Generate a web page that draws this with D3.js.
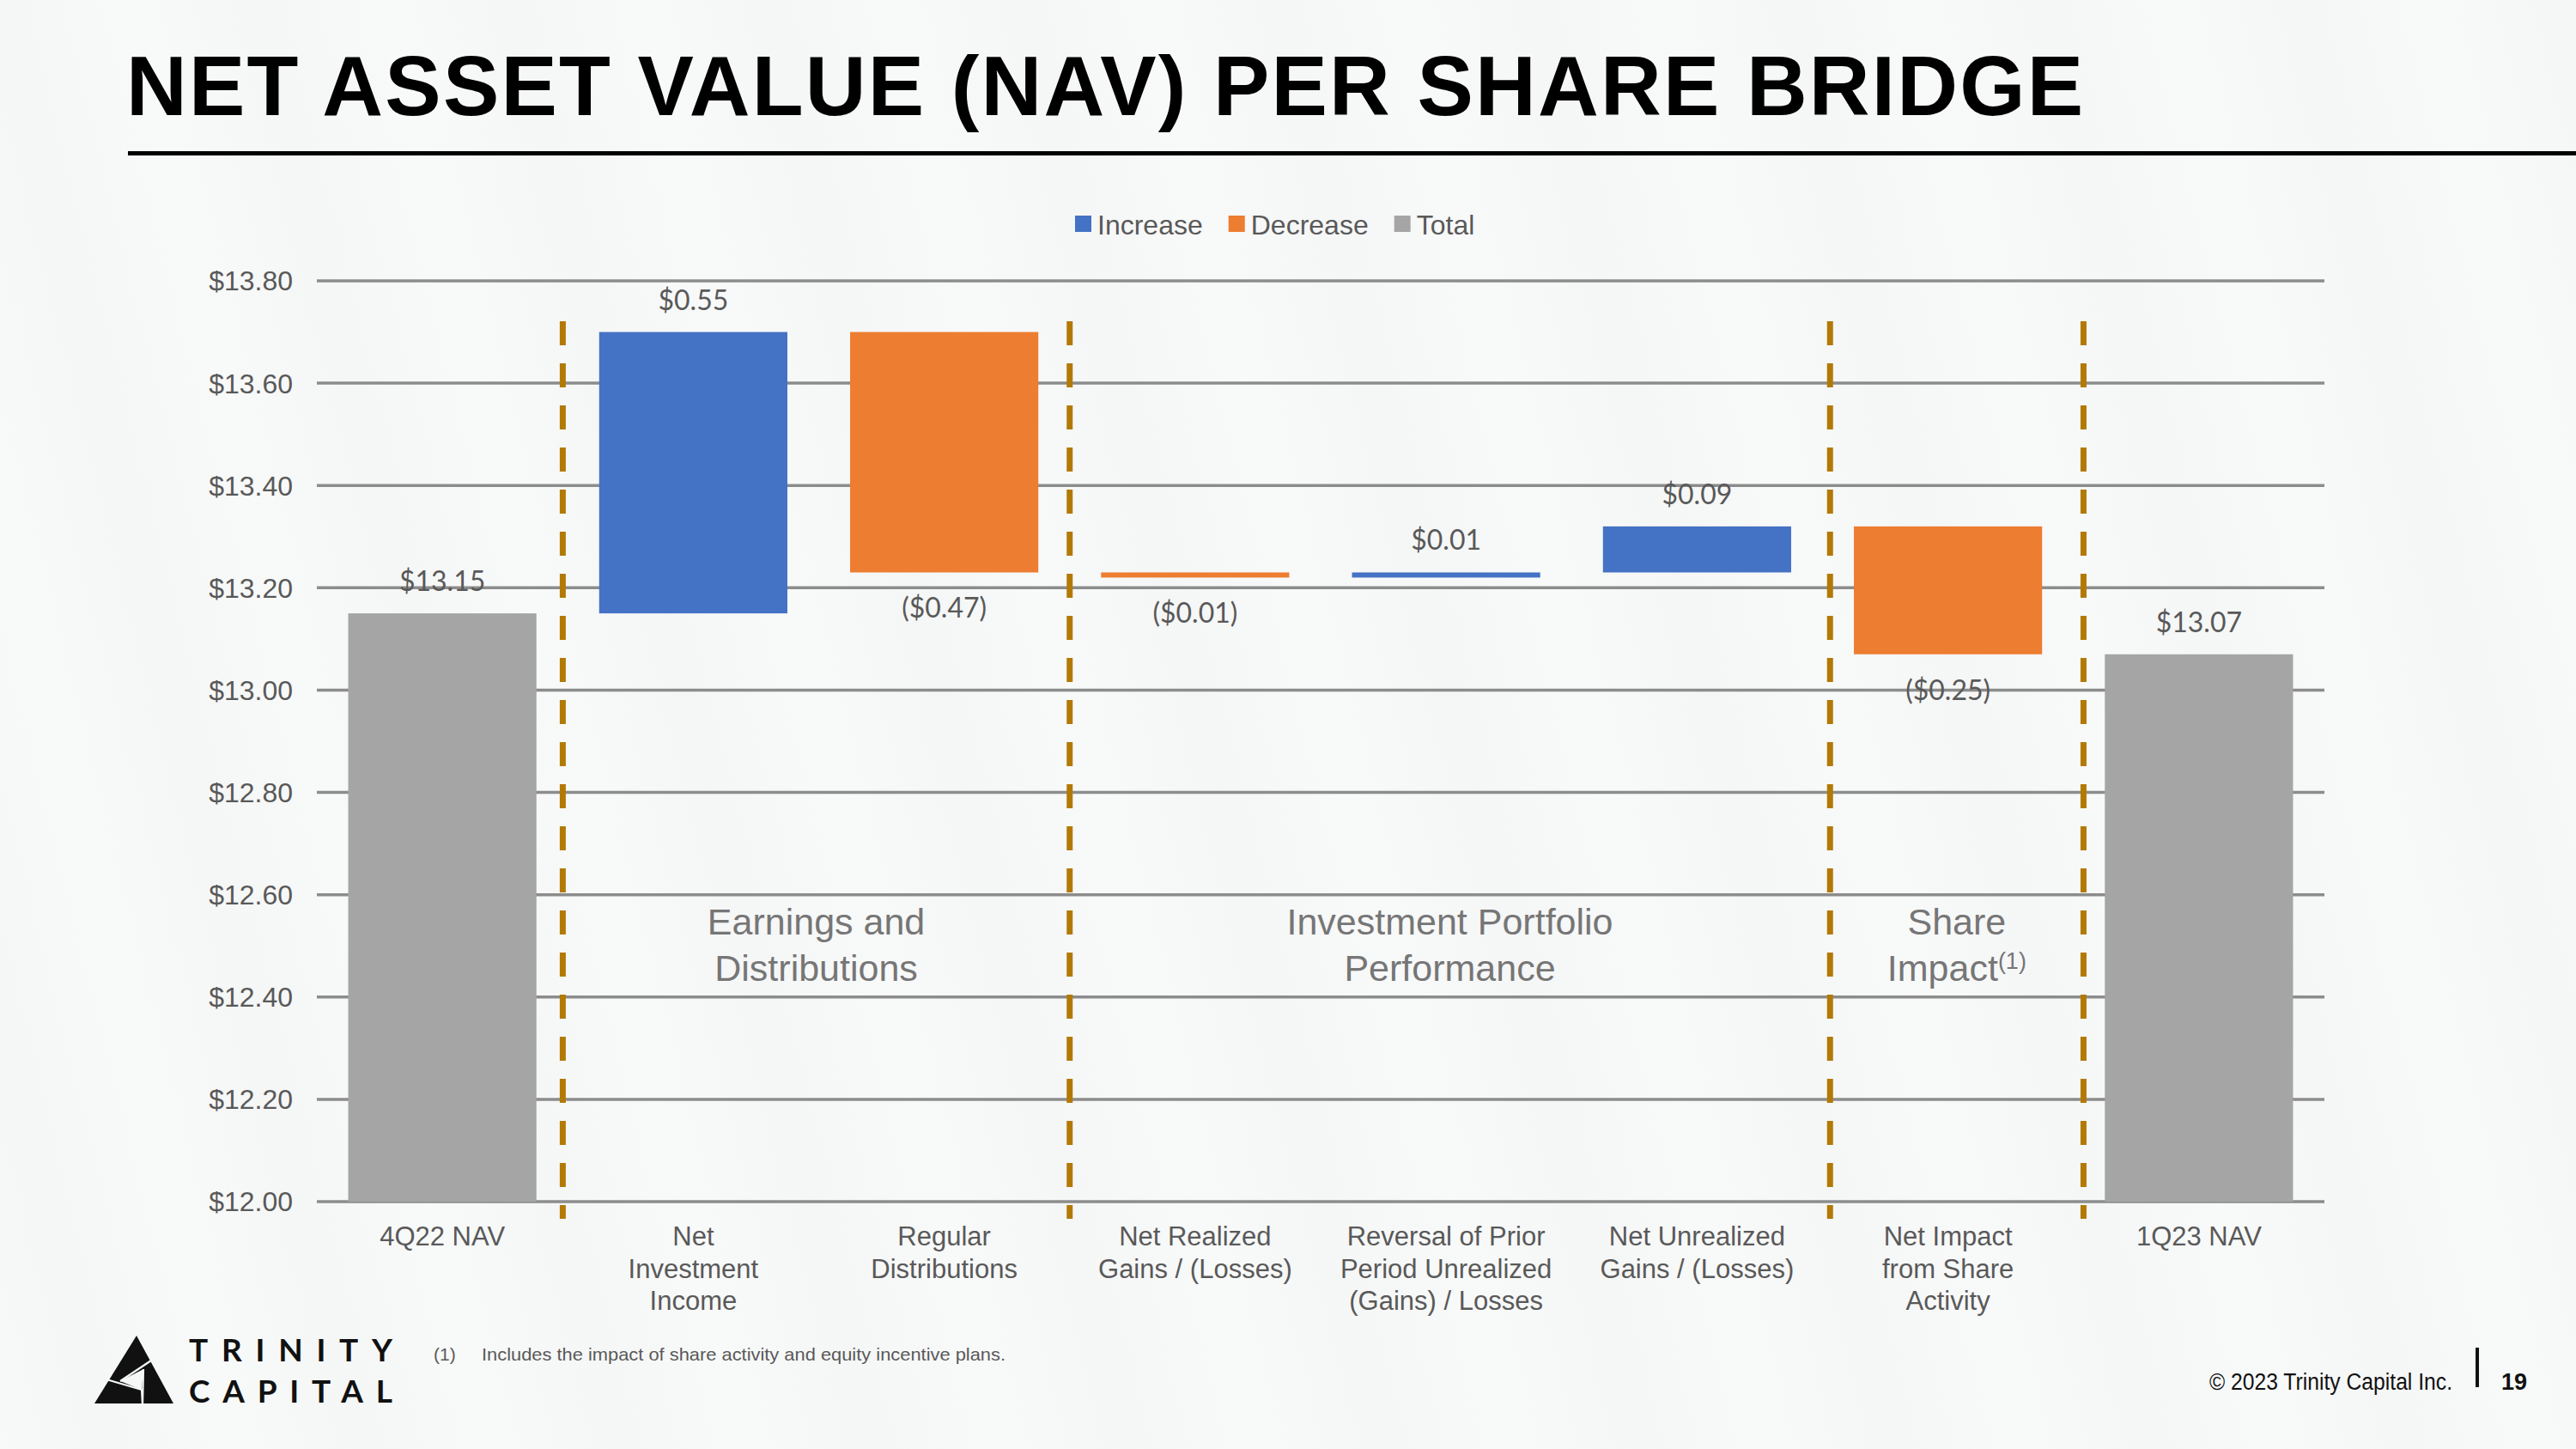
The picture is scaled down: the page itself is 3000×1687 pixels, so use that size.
<!DOCTYPE html>
<html>
<head>
<meta charset="utf-8">
<script src="https://cdn.jsdelivr.net/npm/d3@7"></script>
<style>
  html, body { margin: 0; padding: 0; background: #f6f7f7; }
  svg { display: block; }
</style>
</head>
<body>
<svg id="chart" width="3000" height="1687"></svg>
<script>
// ---------------- DATA ----------------
const categories = ["4Q22 NAV", "Net Investment Income", "Regular Distributions", "Net Realized Gains / (Losses)",
  "Reversal of Prior Period Unrealized (Gains) / Losses", "Net Unrealized Gains / (Losses)",
  "Net Impact from Share Activity", "1Q23 NAV"];
const categoryLines = [
  ["4Q22 NAV"],
  ["Net", "Investment", "Income"],
  ["Regular", "Distributions"],
  ["Net Realized", "Gains / (Losses)"],
  ["Reversal of Prior", "Period Unrealized", "(Gains) / Losses"],
  ["Net Unrealized", "Gains / (Losses)"],
  ["Net Impact", "from Share", "Activity"],
  ["1Q23 NAV"]
];
const values = [13.15, 0.55, -0.47, -0.01, 0.01, 0.09, -0.25, 13.07];
const barTypes = ["total", "increase", "decrease", "decrease", "increase", "increase", "decrease", "total"];
const yTicks = [12.00, 12.20, 12.40, 12.60, 12.80, 13.00, 13.20, 13.40, 13.60, 13.80];
const legendKeys = ["increase", "decrease", "total"];
const legendLabels = ["Increase", "Decrease", "Total"];
// divider positions in category units (0 = centre of first category)
const dividerPositions = [0.48, 2.5, 5.53, 6.54];
const sectionLabels = [["Earnings and", "Distributions"], ["Investment Portfolio", "Performance"], ["Share", "Impact"]];
const titleText = "NET ASSET VALUE (NAV) PER SHARE BRIDGE";
const footnoteText = "Includes the impact of share activity and equity incentive plans.";

// ---------------- STYLE ----------------
const colors = { increase: "#4472C4", decrease: "#ED7D31", total: "#A5A5A5" };
const textGray = "#595959";

const svg = d3.select("#chart");

// background with faint diagonal stripes
const defs = svg.append("defs");
const grad = defs.append("linearGradient")
  .attr("id", "bgStripes").attr("gradientUnits", "userSpaceOnUse")
  .attr("x1", 0).attr("y1", 0).attr("x2", 280).attr("y2", -70)
  .attr("spreadMethod", "repeat");
grad.append("stop").attr("offset", "0%").attr("stop-color", "#f5f6f6");
grad.append("stop").attr("offset", "50%").attr("stop-color", "#f8f9f9");
grad.append("stop").attr("offset", "100%").attr("stop-color", "#f5f6f6");
svg.append("rect").attr("width", 3000).attr("height", 1687).attr("fill", "url(#bgStripes)");

// title
svg.append("text")
  .attr("x", 147).attr("y", 134)
  .attr("textLength", 2279).attr("lengthAdjust", "spacing")
  .style("font-family", "'Liberation Sans', Arial, sans-serif")
  .style("font-weight", "bold").style("font-size", "98px").attr("fill", "#000")
  .text(titleText);
svg.append("rect").attr("x", 149).attr("y", 176).attr("width", 2851).attr("height", 5).attr("fill", "#000");

// ---------------- SCALES ----------------
const x = d3.scaleBand().domain(d3.range(categories.length))
  .range([369, 2707]).paddingInner(0.25).paddingOuter(0.125);
const y = d3.scaleLinear().domain([12.0, 13.8]).range([1399, 327]);
const step = x.step();
const cx = i => x(i) + x.bandwidth() / 2;
const posX = p => cx(0) + p * step;

// gridlines
svg.append("g").selectAll("line").data(yTicks).join("line")
  .attr("x1", 369).attr("x2", 2707)
  .attr("y1", d => y(d)).attr("y2", d => y(d))
  .attr("stroke", "#8c8c8c").attr("stroke-width", 3.5);

// y axis labels
const yAxis = d3.axisLeft(y).tickValues(yTicks).tickSize(0).tickPadding(0)
  .tickFormat(d => "$" + d3.format(".2f")(d));
const yg = svg.append("g").attr("transform", "translate(341,0)").call(yAxis);
yg.select(".domain").remove();
yg.selectAll("text")
  .style("font-family", "'Liberation Sans', Arial, sans-serif")
  .style("font-size", "32px").attr("fill", textGray).attr("dy", "0.34em");

// ---------------- WATERFALL ----------------
let running = 0;
const bars = values.map((v, i) => {
  let lo, hi;
  if (barTypes[i] === "total") { lo = y.domain()[0]; hi = v; running = v; }
  else { const start = running; running = start + v; lo = Math.min(start, running); hi = Math.max(start, running); }
  return { i, v, type: barTypes[i], lo, hi };
});

svg.append("g").selectAll("rect").data(bars).join("rect")
  .attr("x", d => x(d.i)).attr("width", x.bandwidth())
  .attr("y", d => y(d.hi)).attr("height", d => Math.max(2, y(d.lo) - y(d.hi)))
  .attr("fill", d => colors[d.type]);

// dividers
svg.append("g").selectAll("line").data(dividerPositions).join("line")
  .attr("x1", d => posX(d)).attr("x2", d => posX(d))
  .attr("y1", 374).attr("y2", 1419)
  .attr("stroke", "#B27A05").attr("stroke-width", 7)
  .attr("stroke-dasharray", "28 21");

// value labels
const fmtMoney = v => v < 0 ? "($" + d3.format(".2f")(-v) + ")" : "$" + d3.format(".2f")(v);
svg.append("g").selectAll("text").data(bars).join("text")
  .attr("x", d => cx(d.i))
  .attr("y", d => d.type === "decrease" ? y(d.lo) + 53 : y(d.hi) - 26)
  .attr("text-anchor", "middle")
  .style("font-family", "Lato, 'Open Sans', sans-serif")
  .style("font-size", "32px").attr("fill", textGray)
  .text(d => fmtMoney(d.v));

// category labels
const catG = svg.append("g").selectAll("text").data(categoryLines).join("text")
  .attr("text-anchor", "middle")
  .style("font-family", "'Liberation Sans', Arial, sans-serif")
  .style("font-size", "31px").attr("fill", textGray);
catG.each(function(lines, i) {
  d3.select(this).selectAll("tspan").data(lines).join("tspan")
    .attr("x", cx(i)).attr("y", (d, k) => 1450 + k * 37.5).text(d => d);
});

// section labels
const secG = svg.append("g");
sectionLabels.forEach((lines, s) => {
  const mid = (posX(dividerPositions[s]) + posX(dividerPositions[s + 1])) / 2;
  const t = secG.append("text").attr("text-anchor", "middle")
    .style("font-family", "'Liberation Sans', Arial, sans-serif")
    .style("font-size", "43px").attr("fill", "#767676");
  lines.forEach((ln, k) => {
    t.append("tspan").attr("x", mid).attr("y", 1088 + k * 54).text(ln);
  });
  if (s === 2) {
    t.append("tspan").attr("dy", -14).style("font-size", "27px").text("(1)");
  }
});

// legend
let lx = 1252;
const legG = svg.append("g");
legendKeys.forEach((k, j) => {
  legG.append("rect").attr("x", lx).attr("y", 251).attr("width", 19).attr("height", 19).attr("fill", colors[k]);
  const t = legG.append("text").attr("x", lx + 26).attr("y", 273)
    .style("font-family", "'Liberation Sans', Arial, sans-serif")
    .style("font-size", "32px").attr("fill", textGray).text(legendLabels[j]);
  lx = lx + 26 + t.node().getComputedTextLength() + 30;
});

// ---------------- FOOTER ----------------
// logo mark
const logo = svg.append("g").attr("transform", "translate(90,1530)");
logo.append("path").attr("d", "M69,25 L20,104 L112,104 Z").attr("fill", "#111");
logo.append("path").attr("d", "M50,78 L77,64 L75,88 Z").attr("fill", "#f6f7f7");
logo.append("path").attr("d", "M34,76 L75,88 L76,106").attr("fill", "none").attr("stroke", "#f6f7f7").attr("stroke-width", 2.2);
logo.append("path").attr("d", "M50,78 L89,52").attr("fill", "none").attr("stroke", "#f6f7f7").attr("stroke-width", 2.2);
logo.append("path").attr("d", "M77,64 L76,106").attr("fill", "none").attr("stroke", "#f6f7f7").attr("stroke-width", 2.2);

["TRINITY", "CAPITAL"].forEach((w, k) => {
  svg.append("text").attr("x", 220).attr("y", 1585 + k * 48)
    .attr("textLength", 237).attr("lengthAdjust", "spacing")
    .style("font-family", "Lato, 'Noto Sans', sans-serif").style("font-weight", "bold")
    .style("font-size", "37px").attr("fill", "#111").text(w);
});

svg.append("text").attr("x", 505).attr("y", 1584)
  .style("font-family", "'Liberation Sans', Arial, sans-serif")
  .style("font-size", "21px").attr("fill", textGray).text("(1)");
svg.append("text").attr("x", 561).attr("y", 1584)
  .attr("textLength", 610).attr("lengthAdjust", "spacingAndGlyphs")
  .style("font-family", "'Liberation Sans', Arial, sans-serif")
  .style("font-size", "21px").attr("fill", textGray).text(footnoteText);

svg.append("text").attr("x", 2856).attr("y", 1618).attr("text-anchor", "end")
  .attr("textLength", 283).attr("lengthAdjust", "spacingAndGlyphs")
  .style("font-family", "'Liberation Sans', Arial, sans-serif")
  .style("font-size", "27px").attr("fill", "#111").text("© 2023 Trinity Capital Inc.");
svg.append("rect").attr("x", 2883).attr("y", 1569).attr("width", 4).attr("height", 46).attr("fill", "#111");
svg.append("text").attr("x", 2913).attr("y", 1618)
  .style("font-family", "'Liberation Sans', Arial, sans-serif").style("font-weight", "bold")
  .style("font-size", "27px").attr("fill", "#111").text("19");
</script>
</body>
</html>
